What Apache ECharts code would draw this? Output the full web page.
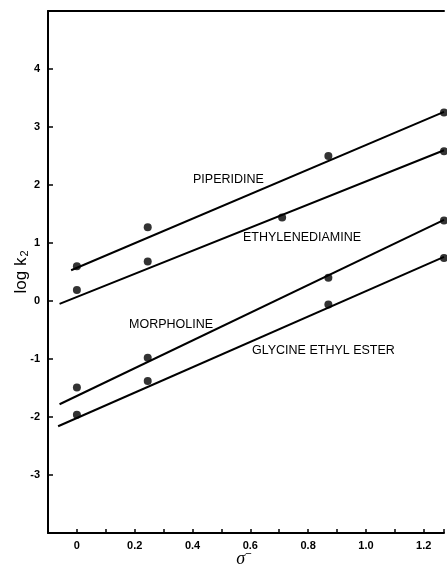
<!DOCTYPE html>
<html>
<head>
    <meta charset="utf-8">
    <title>log k2 vs sigma</title>
    <script src="https://cdn.jsdelivr.net/npm/echarts@6/dist/echarts.min.js"></script>
    <style>
        html, body { margin: 0; padding: 0; background: #fff; }
        #main { width: 447px; height: 566px; }
    </style>
</head>
<body>
<div id="main"></div>
<script type="text/javascript">

    // 坐标轴刻度
    const xTickValues = [0, 0.2, 0.4, 0.6, 0.8, 1.0, 1.2]
    const xTickLabels = ['0', '0.2', '0.4', '0.6', '0.8', '1.0', '1.2']
    const yTickValues = [-3, -2, -1, 0, 1, 2, 3, 4]

    // 各胺的数据点 [sigma-, log k2]
    const piperidinePts = [[0, 0.60], [0.245, 1.27], [0.87, 2.50], [1.27, 3.25]]
    const ethylenediaminePts = [[0, 0.19], [0.245, 0.68], [0.71, 1.44], [1.27, 2.58]]
    const morpholinePts = [[0, -1.49], [0.245, -0.98], [0.87, 0.40], [1.27, 1.39]]
    const glycinePts = [[0, -1.96], [0.245, -1.38], [0.87, -0.06], [1.27, 0.74]]

    // 拟合直线的两端
    const piperidineLine = [[-0.02, 0.53], [1.27, 3.26]]
    const ethylenediamineLine = [[-0.06, -0.05], [1.27, 2.60]]
    const morpholineLine = [[-0.06, -1.78], [1.27, 1.40]]
    const glycineLine = [[-0.065, -2.16], [1.27, 0.76]]

    const names = ['PIPERIDINE', 'ETHYLENEDIAMINE', 'MORPHOLINE', 'GLYCINE ETHYL ESTER']

    var myChart = echarts.init(document.getElementById('main'))

    function fitLine(name, data) {
        return {
            name: name, type: 'line', data: data,
            showSymbol: false, silent: true,
            lineStyle: { color: '#000', width: 2 }
        }
    }
    function dots(name, data) {
        return {
            name: name, type: 'scatter', data: data,
            symbolSize: 8, silent: true,
            itemStyle: { color: '#000' }
        }
    }
    function tag(text, x, y) {
        return {
            type: 'text', x: x, y: y,
            style: {
                text: text, fill: '#000',
                font: '12.5px "Liberation Sans", Arial, sans-serif',
                verticalAlign: 'middle'
            }
        }
    }

    var option = {
        animation: false,
        grid: { left: 48, top: 11, right: 0, bottom: 33 },
        xAxis: [{
            type: 'value', min: -0.1, max: 1.27, interval: 0.1,
            axisLine: { onZero: false, lineStyle: { color: '#000', width: 2 } },
            axisTick: { inside: true, length: 4, lineStyle: { color: '#000', width: 1.5 } },
            splitLine: { show: false },
            axisLabel: {
                margin: 7, color: '#000', fontSize: 11, fontWeight: 'bold',
                fontFamily: '"Liberation Sans", Arial, sans-serif',
                showMaxLabel: true, showMinLabel: true,
                formatter: function (v) {
                    for (var i = 0; i < xTickValues.length; i++) {
                        if (Math.abs(v - xTickValues[i]) < 1e-6) return xTickLabels[i]
                    }
                    return ''
                }
            }
        }, {
            type: 'value', position: 'top', min: -0.1, max: 1.27,
            axisLine: { show: true, onZero: false, lineStyle: { color: '#000', width: 2 } },
            axisTick: { show: false }, axisLabel: { show: false }, splitLine: { show: false }
        }],
        yAxis: {
            type: 'value', min: -4, max: 5, interval: 1,
            axisLine: { onZero: false, lineStyle: { color: '#000', width: 2 } },
            axisTick: { inside: true, length: 5, lineStyle: { color: '#000', width: 1.5 } },
            splitLine: { show: false },
            axisLabel: {
                margin: 8, color: '#000', fontSize: 11, fontWeight: 'bold',
                fontFamily: '"Liberation Sans", Arial, sans-serif',
                formatter: function (v) {
                    return yTickValues.indexOf(Math.round(v)) >= 0 ? String(Math.round(v)) : ''
                }
            }
        },
        graphic: [
            tag(names[0], 193, 180),
            tag(names[1], 243, 238),
            tag(names[2], 129, 325),
            tag(names[3], 252, 351),
            {
                type: 'text', x: 21, y: 272, rotation: Math.PI / 2,
                style: {
                    text: '{a|log k}{b|2}', align: 'center', verticalAlign: 'middle',
                    rich: {
                        a: { fontSize: 17, fontFamily: '"Liberation Sans", Arial, sans-serif', fill: '#000' },
                        b: { fontSize: 11, fontFamily: '"Liberation Sans", Arial, sans-serif', fill: '#000', padding: [8, 0, 0, 1] }
                    }
                }
            },
            {
                type: 'text', x: 244, y: 559,
                style: {
                    text: '{s|σ}{m|−}', align: 'center', verticalAlign: 'middle',
                    rich: {
                        s: { fontSize: 18, fontStyle: 'italic', fontFamily: '"Liberation Serif", serif', fill: '#000' },
                        m: { fontSize: 11, fontFamily: '"Liberation Sans", Arial, sans-serif', fill: '#000', padding: [0, 0, 10, 0] }
                    }
                }
            }
        ],
        series: [
            fitLine(names[0], piperidineLine), dots(names[0], piperidinePts),
            fitLine(names[1], ethylenediamineLine), dots(names[1], ethylenediaminePts),
            fitLine(names[2], morpholineLine), dots(names[2], morpholinePts),
            fitLine(names[3], glycineLine), dots(names[3], glycinePts)
        ]
    }

    myChart.setOption(option)

</script>
</body>
</html>
